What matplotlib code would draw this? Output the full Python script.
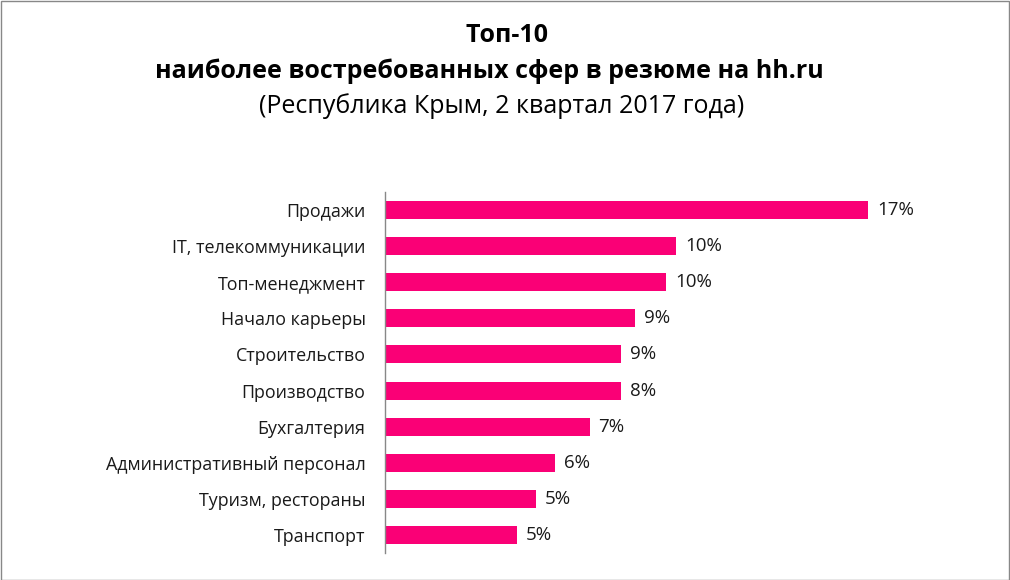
import matplotlib
matplotlib.use("Agg")
import matplotlib.pyplot as plt
from matplotlib.patches import Rectangle

plt.rcParams['font.family'] = ['Open Sans', 'DejaVu Sans']

categories = ["Продажи", "IT, телекоммуникации", "Топ-менеджмент", "Начало карьеры",
              "Строительство", "Производство", "Бухгалтерия",
              "Административный персонал", "Туризм, рестораны", "Транспорт"]
values = [17.0, 10.25, 9.9, 8.8, 8.3, 8.3, 7.2, 6.0, 5.3, 4.65]
labels = ["17%", "10%", "10%", "9%", "9%", "8%", "7%", "6%", "5%", "5%"]

title_lines = ["Топ-10", "наиболее востребованных сфер в резюме на hh.ru",
               "(Республика Крым, 2 квартал 2017 года)"]

W, H = 1010, 580
fig = plt.figure(figsize=(W/100, H/100), dpi=100)
fig.patch.set_facecolor('white')

left, right, top, bottom = 385, 385 + 483/17*19, 192, 553
ax = fig.add_axes([left/W, 1 - bottom/H, (right-left)/W, (bottom-top)/H])

y = list(range(len(categories)))
ax.barh(y, values, height=0.5, color='#FA0076')
ax.set_ylim(len(categories) - 0.5, -0.5)
ax.set_xlim(0, 19)
ax.set_yticks(y)
ax.set_yticklabels(categories, fontsize=12.9, color='#1a1a1a')
ax.tick_params(axis='y', length=0, pad=14)
ax.set_xticks([])
for s in ['top', 'right', 'bottom']:
    ax.spines[s].set_visible(False)
ax.spines['left'].set_color('#888888')
ax.spines['left'].set_linewidth(1.0)

for yi, v, lab in zip(y, values, labels):
    ax.annotate(lab, (v, yi), xytext=(6.5, 0), textcoords='offset points',
                va='center', ha='left', fontsize=13.5, color='#1a1a1a')

fig.text(507/W, 1 - 35/H, title_lines[0], ha='center', va='center',
         fontsize=18, fontweight='bold', color='black')
fig.text(489/W, 1 - 71/H, title_lines[1], ha='center', va='center',
         fontsize=18, fontweight='bold', color='black')
fig.text(502/W, 1 - 106/H, title_lines[2], ha='center', va='center',
         fontsize=18, color='black')

fig.patches.append(Rectangle((0.5/W, 0.5/H), 1 - 1.5/W, 1 - 1.5/H,
                             transform=fig.transFigure, fill=False,
                             edgecolor='#888888', linewidth=1.0))

fig.savefig('out.png', dpi=100)
